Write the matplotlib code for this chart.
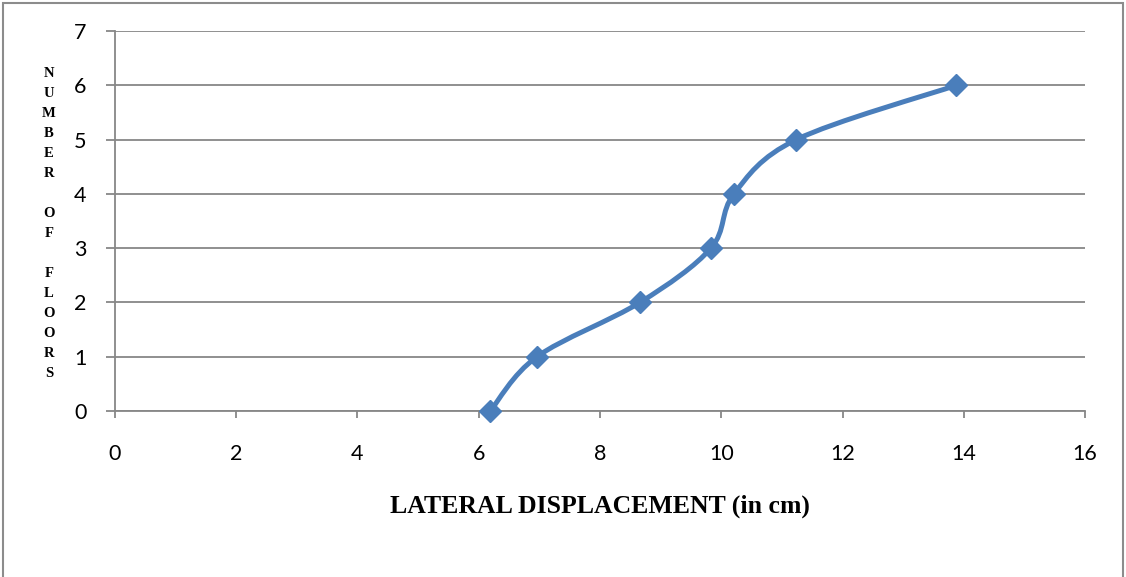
import numpy as np
from matplotlib import pyplot as plt
from matplotlib.path import Path
from matplotlib.patches import PathPatch, Rectangle

# values
displacement = [6.19, 6.96, 8.66, 9.83, 10.21, 11.24, 13.88]
floors = [0, 1, 2, 3, 4, 5, 6]
x_ticks = [0, 2, 4, 6, 8, 10, 12, 14, 16]
y_ticks = [0, 1, 2, 3, 4, 5, 6, 7]
x_label = "LATERAL DISPLACEMENT (in cm)"
y_label = "NUMBER OF FLOORS"

BLUE = "#4A7EBB"
GRID = "#878787"


def smooth_path(xs, ys):
    '''Excel-like smoothed line: cubic Bezier through every point.'''
    pts = np.column_stack([xs, ys]).astype(float)
    n = len(pts)
    verts = [pts[0]]
    codes = [Path.MOVETO]
    for i in range(n - 1):
        p0 = pts[i - 1] if i > 0 else pts[i]
        p1 = pts[i]
        p2 = pts[i + 1]
        p3 = pts[i + 2] if i + 2 < n else pts[i + 1]
        c1 = p1 + (p2 - p0) / 6
        c2 = p2 - (p3 - p1) / 6
        verts += [c1, c2, p2]
        codes += [Path.CURVE4] * 3
    return Path(verts, codes)


fig = plt.figure(figsize=(11.26, 5.77), dpi=100)
ax = fig.add_axes([0.1021, 0.2877, 0.8615, 0.6586])

ax.add_patch(PathPatch(smooth_path(displacement, floors), fill=False,
                       edgecolor=BLUE, linewidth=3.6, capstyle="round",
                       zorder=3))
ax.plot(displacement, floors, linestyle="none", marker="D", markersize=11,
        color=BLUE, zorder=4, clip_on=False)

ax.set_xlim(0, 16)
ax.set_ylim(0, 7)
ax.set_xticks(x_ticks)
ax.set_yticks(y_ticks)
ax.grid(axis="y", color=GRID, linewidth=1.3)
ax.set_axisbelow(True)

for side in ["top", "right"]:
    ax.spines[side].set_visible(False)
for side in ["left", "bottom"]:
    ax.spines[side].set_color(GRID)
    ax.spines[side].set_linewidth(1.3)

ax.tick_params(axis="both", direction="out", width=1.3, color=GRID,
               labelsize=15.5)
ax.tick_params(axis="y", length=6.5, pad=14)
ax.tick_params(axis="x", length=5, pad=19)
for lbl in ax.get_xticklabels() + ax.get_yticklabels():
    lbl.set_family("Lato")

ax.set_xlabel(x_label, family="Liberation Serif", fontweight="bold",
              fontsize=18.5)
ax.xaxis.set_label_coords(0.5, -0.221)

# stacked vertical letters on the left
stacked = "\n".join(y_label)
fig.text(0.0435, 0.612, stacked, family="Liberation Serif",
         fontweight="bold", fontsize=10.5, ha="center", va="center",
         linespacing=1.7)

# chart border
fig.patches.append(Rectangle((0.003, -0.01), 0.994, 1.004,
                             transform=fig.transFigure, fill=False,
                             edgecolor="#8c8c8c", linewidth=1.5))

fig.savefig("out.png", dpi=100)
